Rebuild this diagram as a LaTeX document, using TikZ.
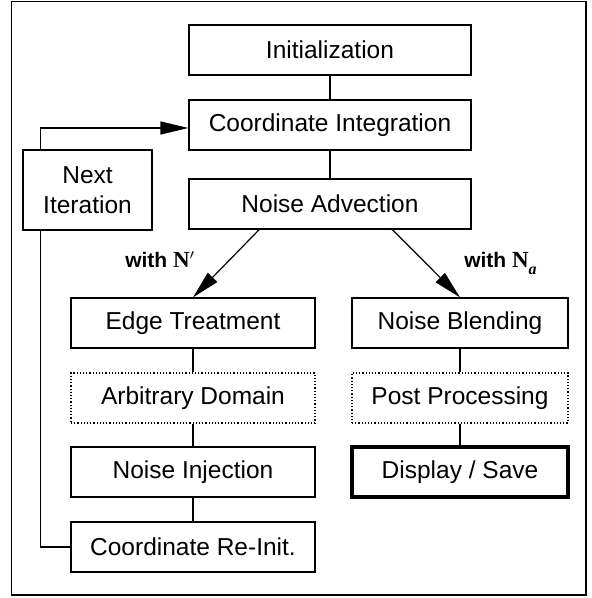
\documentclass[tikz,border=0pt]{standalone}
\usepackage{amsmath}
\usepackage{fontspec}
\setmainfont{Liberation Sans}
\newfontfamily\serifN{Liberation Serif}
\usetikzlibrary{arrows.meta,calc}
\tikzset{every picture/.style={line width=0.6pt}}
\tikzset{
  box/.style={draw, minimum height=25pt, inner sep=0pt, font=\fontsize{12.25pt}{15pt}\selectfont},
  midbox/.style={box, minimum width=141pt},
  leftbox/.style={box, minimum width=122pt},
  rightbox/.style={box, minimum width=108pt},
  optbox/.style={densely dotted},
  outbox/.style={line width=1.6pt},
  lbl/.style={font=\fontsize{10.5pt}{12pt}\selectfont\bfseries},
  flow/.style={-{Triangle[length=14pt,width=6.5pt]}}
}
\newcommand{\bigN}{{\serifN\fontsize{11.5pt}{12pt}\selectfont\bfseries N}}

\begin{document}
\begin{tikzpicture}[x=0.5pt,y=0.5pt,yscale=-1,xscale=1]
		\useasboundingbox (0,0) rectangle (591,598);
		
		%Shape: Rectangle [frame] 
		\draw [line width=0.7pt] (11.5,1.5) rectangle (586,595) ;
		
		%Shape: Rectangle [main chain] 
		\node [midbox] (init) at (330,50) {Initialization};
		\node [midbox] (integ) at (330,125) {Coordinate Integration};
		\node [midbox] (advect) at (330,204) {Noise Advection};
		%Shape: Rectangle [loop] 
		\node [box, minimum width=64.5pt, minimum height=40pt, align=center] (next) at (87.5,190) {Next\\Iteration};
		
		%Shape: Rectangle [left branch] 
		\node [leftbox] (edge) at (193,323) {Edge Treatment};
		\node [leftbox, optbox] (arbdom) at (193,398) {Arbitrary Domain};
		\node [leftbox] (inject) at (193,472) {Noise Injection};
		\node [leftbox] (reinit) at (193,547) {Coordinate Re-Init.};
		
		%Shape: Rectangle [right branch] 
		\node [rightbox] (blend) at (460,323) {Noise Blending};
		\node [rightbox, optbox] (post) at (460,398) {Post Processing};
		\node [rightbox, outbox] (disp) at (460,472) {Display / Save};
		
		%Straight Lines [chain] 
		\draw (init) -- (integ) ;
		\draw (integ) -- (advect) ;
		\draw (edge) -- (arbdom) ;
		\draw (arbdom) -- (inject) ;
		\draw (inject) -- (reinit) ;
		\draw (blend) -- (post) ;
		\draw (post) -- (disp) ;
		
		%Straight Lines [split] 
		\draw [flow] ($(advect.south west)!0.25!(advect.south east)$) -- (edge.north) ;
		\draw [flow] ($(advect.south west)!0.72!(advect.south east)$) -- (blend.north) ;
		
		%Straight Lines [feedback] 
		\draw (reinit.west) -| ([xshift=9pt]next.south west) ;
		\draw [flow] ([xshift=9pt]next.north west) |- ([yshift=1.5pt]integ.west) ;
		
		% Text Node
		\node [lbl, anchor=base west] (withL) at (118,267) {with \bigN$'$};
		% Text Node
		\node [lbl, anchor=base west] (withR) at (457,267) {with \bigN\raisebox{-3.5pt}{\serifN\fontsize{8pt}{9pt}\selectfont\bfseries\itshape a}};
		
\end{tikzpicture}
\end{document}
